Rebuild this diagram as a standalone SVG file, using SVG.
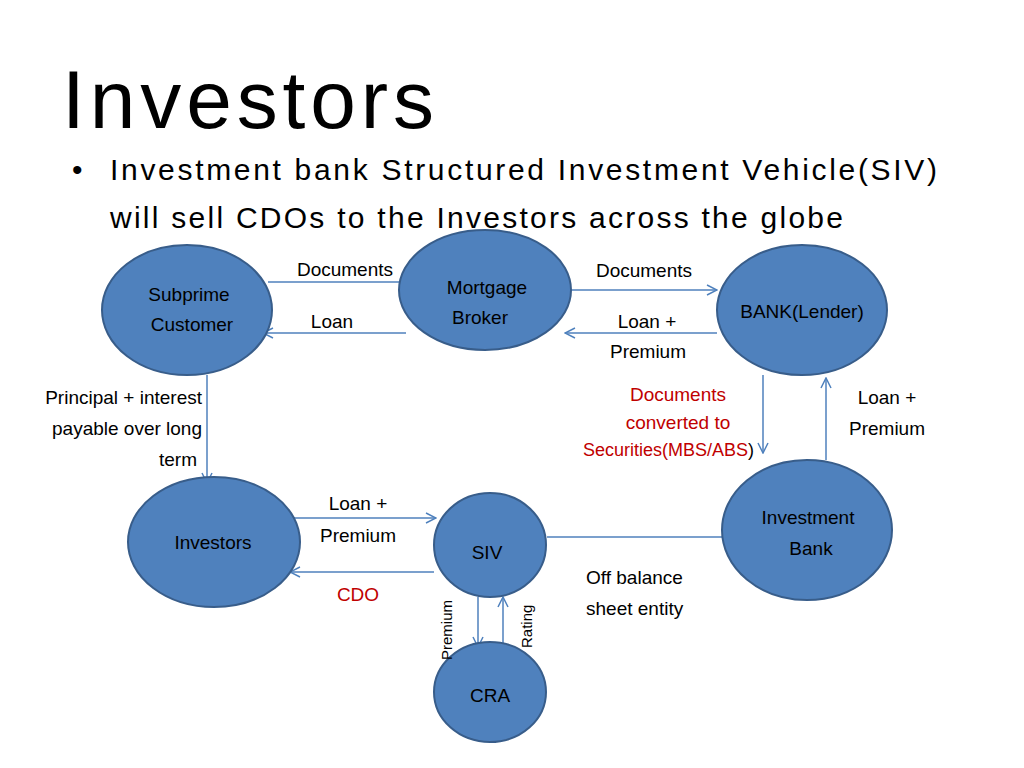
<svg xmlns="http://www.w3.org/2000/svg" width="1024" height="768" viewBox="0 0 1024 768">
<defs>
<marker id="a" markerWidth="12" markerHeight="12" refX="11" refY="6" orient="auto" markerUnits="userSpaceOnUse"><path d="M1,1 L11,6 L1,11" fill="none" stroke="#4f81bd" stroke-width="1.5"/></marker>
<style>
.n{fill:#4f81bd;stroke:#385d8a;stroke-width:2}
.c{stroke:#4f81bd;stroke-width:1.5;fill:none}
text{font-family:"Liberation Sans",Arial,sans-serif;fill:#000}
.l{font-size:19px}
.r{fill:#c00000}
</style>
</defs>
<rect width="1024" height="768" fill="#fff"/>
<text x="62" y="128" font-size="82" textLength="372">Investors</text>
<text x="72" y="180" font-size="30">•</text>
<text x="110" y="180" font-size="30" textLength="827">Investment bank Structured Investment Vehicle(SIV)</text>
<text x="110" y="228" font-size="30" textLength="733">will sell CDOs to the Investors across the globe</text>
<g id="connectors">
<line class="c" x1="268" y1="282" x2="411" y2="282" marker-end="url(#a)"/>
<line class="c" x1="406" y1="333" x2="263" y2="333" marker-end="url(#a)"/>
<line class="c" x1="571" y1="290" x2="717" y2="290" marker-end="url(#a)"/>
<line class="c" x1="717" y1="333" x2="565" y2="333" marker-end="url(#a)"/>
<line class="c" x1="207" y1="375" x2="207" y2="483" marker-end="url(#a)"/>
<line class="c" x1="763" y1="375" x2="763" y2="453" marker-end="url(#a)"/>
<line class="c" x1="826" y1="460" x2="826" y2="378" marker-end="url(#a)"/>
<line class="c" x1="292" y1="518" x2="436" y2="518" marker-end="url(#a)"/>
<line class="c" x1="434" y1="572" x2="290" y2="572" marker-end="url(#a)"/>
<line class="c" x1="547" y1="537" x2="722" y2="537"/>
<line class="c" x1="478" y1="597" x2="478" y2="647" marker-end="url(#a)"/>
<line class="c" x1="503" y1="647" x2="503" y2="597" marker-end="url(#a)"/>
</g>
<g id="subprime"><ellipse class="n" cx="187" cy="310" rx="85" ry="65"/><text class="l" x="189" y="301" text-anchor="middle">Subprime</text><text class="l" x="192" y="331" text-anchor="middle">Customer</text></g>
<g id="broker"><ellipse class="n" cx="485" cy="290" rx="86" ry="60"/><text class="l" x="487" y="294" text-anchor="middle">Mortgage</text><text class="l" x="480" y="324" text-anchor="middle">Broker</text></g>
<g id="bank"><ellipse class="n" cx="802" cy="310" rx="85" ry="65"/><text class="l" x="802" y="318" text-anchor="middle">BANK(Lender)</text></g>
<g id="investors"><ellipse class="n" cx="214" cy="542" rx="86" ry="65"/><text class="l" x="213" y="549" text-anchor="middle">Investors</text></g>
<g id="siv"><ellipse class="n" cx="490" cy="545" rx="56" ry="52"/><text class="l" x="487" y="559" text-anchor="middle">SIV</text></g>
<g id="ibank"><ellipse class="n" cx="807" cy="530" rx="85" ry="70"/><text class="l" x="808" y="524" text-anchor="middle">Investment</text><text class="l" x="811" y="555" text-anchor="middle">Bank</text></g>
<g id="cra"><ellipse class="n" cx="490" cy="692" rx="56" ry="50"/><text class="l" x="490" y="702" text-anchor="middle">CRA</text></g>
<g id="labels">
<text class="l" x="345" y="276" text-anchor="middle">Documents</text>
<text class="l" x="332" y="328" text-anchor="middle">Loan</text>
<text class="l" x="644" y="277" text-anchor="middle">Documents</text>
<text class="l" x="647" y="328" text-anchor="middle">Loan +</text>
<text class="l" x="648" y="358" text-anchor="middle">Premium</text>
<text class="l" x="202" y="404" text-anchor="end">Principal + interest</text>
<text class="l" x="202" y="435" text-anchor="end">payable over long</text>
<text class="l" x="197" y="466" text-anchor="end">term</text>
<text class="l r" x="678" y="401" text-anchor="middle" font-size="18">Documents</text>
<text class="l r" x="678" y="429" text-anchor="middle" font-size="18">converted to</text>
<text x="583" y="456" font-size="18" class="r">Securities(MBS/ABS<tspan fill="#000">)</tspan></text>
<text class="l" x="887" y="404" text-anchor="middle">Loan +</text>
<text class="l" x="887" y="435" text-anchor="middle">Premium</text>
<text class="l" x="358" y="510" text-anchor="middle">Loan +</text>
<text class="l" x="358" y="542" text-anchor="middle">Premium</text>
<text class="l r" x="358" y="601" text-anchor="middle">CDO</text>
<text class="l" x="586" y="584">Off balance</text>
<text class="l" x="586" y="615">sheet entity</text>
<text font-size="15" transform="translate(452,660) rotate(-90)">Premium</text>
<text font-size="15" transform="translate(532,648) rotate(-90)">Rating</text>
</g>
</svg>
